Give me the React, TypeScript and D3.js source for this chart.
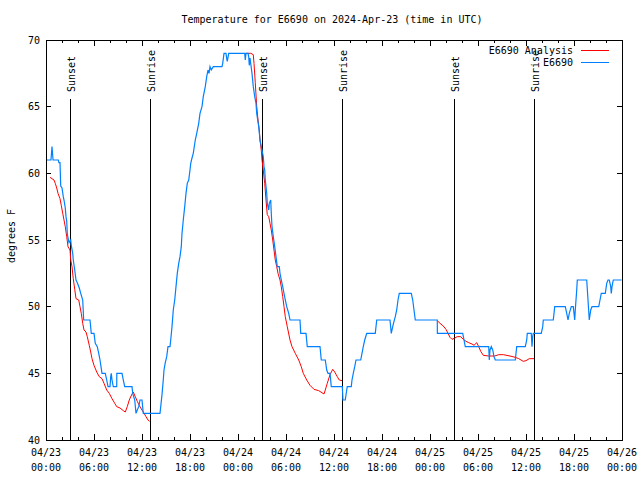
import React from "react";
import * as d3 from "d3";

const TITLE = "Temperature for E6690 on 2024-Apr-23 (time in UTC)";
const Y_LABEL = "degrees F";
const SERIES_NAMES = ["E6690 Analysis", "E6690"];
const SERIES_COLORS = ["#ff0000", "#0080ff"];

const yTicks = [40, 45, 50, 55, 60, 65, 70];
// hours since 04/23 00:00 UTC
const xMajorHours = [0, 6, 12, 18, 24, 30, 36, 42, 48, 54, 60, 66, 72];
const xTickDates = ["04/23", "04/23", "04/23", "04/23", "04/24", "04/24", "04/24", "04/24", "04/25", "04/25", "04/25", "04/25", "04/26"];
const xTickTimes = ["00:00", "06:00", "12:00", "18:00", "00:00", "06:00", "12:00", "18:00", "00:00", "06:00", "12:00", "18:00", "00:00"];
const xMinorHours = d3.range(0, 73, 2);

const sunLabels = ["Sunset", "Sunrise", "Sunset", "Sunrise", "Sunset", "Sunrise"];
const sunHours = [3.04, 13.1, 27.04, 37.04, 51.04, 61.04];

// Observed station temperature (hour, degF)
const observed: [number, number][] = [
  [0.12, 61.0], [0.62, 61.0], [0.75, 62.0], [0.88, 61.0], [1.54, 61.0], [1.62, 60.8], [1.75, 60.8],
  [1.84, 59.05], [2.0, 58.9], [2.16, 58.25], [2.25, 58.0], [2.41, 57.4], [2.5, 56.75], [2.59, 56.4],
  [2.66, 55.5], [2.75, 55.15], [2.88, 54.8], [3.09, 55.0], [3.16, 54.6], [3.34, 54.0], [3.41, 53.5],
  [3.59, 52.75], [3.75, 52.0], [3.91, 51.8], [4.16, 51.4], [4.34, 51.0], [4.59, 50.5], [4.71, 49.0],
  [5.5, 49.0], [5.66, 48.0], [6.0, 48.0], [6.16, 47.25], [6.41, 47.0], [6.59, 46.5], [6.75, 46.0],
  [7.0, 45.0], [7.41, 45.0], [7.59, 44.5], [7.75, 44.0], [8.0, 44.0], [8.09, 44.75], [8.16, 45.0],
  [8.25, 44.5], [8.41, 44.0], [8.84, 44.0], [8.85, 45.0], [9.5, 45.0], [9.66, 44.5], [9.84, 44.0],
  [10.75, 44.0], [10.84, 43.5], [11.09, 43.0], [11.25, 42.0], [11.41, 42.25], [11.59, 42.5],
  [11.75, 43.0], [12.0, 43.0], [12.16, 42.0], [14.25, 42.0], [14.5, 43.4], [14.66, 44.5], [14.75, 45.25],
  [14.91, 45.8], [15.09, 46.25], [15.25, 47.0], [15.5, 47.0], [15.59, 47.5], [15.75, 48.5], [15.91, 49.75],
  [16.09, 50.5], [16.25, 51.5], [16.41, 52.5], [16.59, 53.25], [16.75, 53.75], [16.91, 54.5], [17.0, 55.5],
  [17.16, 56.5], [17.34, 57.5], [17.5, 58.5], [17.66, 59.25], [17.84, 59.5], [18.0, 60.25], [18.09, 60.75],
  [18.25, 61.15], [18.41, 61.5], [18.66, 62.5], [18.84, 63.0], [19.09, 63.75], [19.25, 64.5], [19.5, 65.0],
  [19.66, 65.75], [19.91, 66.5], [20.09, 67.25], [20.25, 67.75], [20.38, 67.5], [20.5, 68.0], [20.66, 67.75],
  [20.91, 68.0], [22.0, 68.0], [22.09, 68.25], [22.25, 69.0], [22.5, 69.0], [22.59, 68.6], [22.66, 68.4],
  [22.75, 68.7], [22.84, 69.0], [24.84, 69.0], [24.91, 68.5], [25.0, 69.0], [25.25, 69.0], [25.34, 68.75],
  [25.41, 68.1], [25.5, 68.65], [25.75, 67.5], [25.91, 66.5], [26.09, 65.75], [26.25, 65.25], [26.34, 64.5],
  [26.59, 63.5], [26.75, 62.5], [27.0, 61.75], [27.16, 61.25], [27.25, 60.5], [27.34, 60.25], [27.41, 59.5],
  [27.59, 58.5], [27.66, 57.75], [27.84, 57.25], [27.91, 57.75], [28.09, 58.0], [28.16, 57.0], [28.25, 56.0],
  [28.41, 55.25], [28.59, 54.5], [28.75, 53.75], [28.91, 53.0], [29.16, 53.0], [29.25, 52.5], [29.41, 52.0],
  [29.59, 51.5], [29.75, 51.0], [29.91, 50.5], [30.09, 50.0], [30.34, 49.5], [30.5, 49.0], [31.75, 49.0],
  [31.84, 48.0], [32.5, 48.0], [32.66, 47.0], [34.25, 47.0], [34.41, 46.0], [34.91, 46.0], [35.09, 45.25],
  [35.25, 45.0], [35.5, 45.0], [35.66, 44.0], [37.04, 44.0], [37.12, 43.0], [37.41, 43.0], [37.59, 43.75],
  [37.66, 44.0], [38.16, 44.0], [38.25, 44.5], [38.41, 45.0], [38.59, 45.5], [38.75, 46.0], [39.34, 46.0],
  [39.5, 46.5], [39.66, 47.0], [39.84, 47.5], [40.09, 48.0], [41.16, 48.0], [41.34, 49.0], [43.0, 49.0],
  [43.16, 48.0], [43.34, 48.5], [43.5, 48.9], [43.66, 49.25], [43.84, 49.75], [44.0, 50.5], [44.16, 51.0],
  [45.66, 51.0], [45.84, 50.5], [46.0, 49.75], [46.16, 49.0], [48.91, 49.0], [48.92, 48.0], [52.09, 48.0],
  [52.25, 47.5], [52.41, 47.0], [55.34, 47.0], [55.41, 46.0], [55.5, 46.75], [55.66, 47.0], [55.84, 46.75],
  [56.0, 46.25], [56.16, 46.0], [58.66, 46.0], [58.84, 47.0], [59.91, 47.0], [60.09, 47.5], [60.16, 48.0],
  [60.66, 48.0], [60.75, 47.0], [60.84, 47.75], [60.91, 48.0], [61.91, 48.0], [62.09, 48.5], [62.16, 49.0],
  [63.41, 49.0], [63.59, 50.0], [64.91, 50.0], [65.09, 49.5], [65.25, 49.0], [65.41, 49.5], [65.66, 50.0],
  [65.91, 50.0], [66.09, 49.0], [66.16, 49.75], [66.34, 51.25], [66.41, 52.0], [67.59, 52.0], [67.75, 50.5],
  [67.91, 49.0], [68.09, 49.75], [68.25, 50.0], [69.09, 50.0], [69.25, 50.5], [69.41, 51.0], [69.91, 51.0],
  [70.09, 51.75], [70.25, 52.0], [70.41, 52.0], [70.59, 51.5], [70.66, 51.0], [70.75, 51.5], [70.91, 52.0],
  [71.95, 52.0],
];

// Analysis temperature (hour, degF), three separate pieces
const analysisNight1: [number, number][] = [
  [0.5, 59.7], [0.75, 59.6], [1.0, 59.5], [1.16, 59.25], [1.34, 58.9], [1.5, 58.5], [1.75, 58.1],
  [1.91, 57.6], [2.09, 57.0], [2.25, 56.5], [2.41, 56.0], [2.59, 55.25], [2.75, 54.5], [3.0, 54.25],
  [3.09, 53.5], [3.25, 53.0], [3.41, 52.1], [3.59, 51.3], [3.75, 50.6], [4.09, 50.5], [4.25, 50.0],
  [4.41, 49.5], [4.59, 48.75], [4.75, 48.25], [5.0, 48.1], [5.16, 47.75], [5.41, 47.1], [5.59, 46.6],
  [5.75, 46.1], [6.0, 45.6], [6.34, 45.1], [6.66, 44.75], [7.0, 44.6], [7.25, 44.25], [7.59, 43.75],
  [7.91, 43.5], [8.25, 43.1], [8.59, 42.75], [8.84, 42.5], [9.25, 42.4], [9.66, 42.2], [9.91, 42.1],
  [10.16, 42.5], [10.41, 43.0], [10.75, 43.45], [10.91, 43.6], [11.16, 43.25], [11.41, 42.9],
  [11.66, 42.6], [11.84, 42.4], [12.16, 42.1], [12.5, 41.75], [12.75, 41.5], [12.94, 41.4],
];
const analysisNight2: [number, number][] = [
  [25.0, 69.0], [25.6, 69.0], [25.91, 68.9], [26.0, 68.25], [26.16, 66.8], [26.34, 65.0], [26.5, 64.0],
  [26.66, 63.25], [26.75, 62.5], [26.91, 61.75], [27.0, 61.0], [27.16, 60.25], [27.34, 59.25], [27.5, 58.0],
  [27.66, 56.9], [27.84, 56.75], [28.0, 56.25], [28.16, 55.75], [28.34, 55.0], [28.5, 54.25], [28.66, 53.5],
  [28.84, 53.0], [29.0, 52.5], [29.25, 52.0], [29.41, 51.5], [29.59, 50.75], [29.75, 50.0], [29.91, 49.25],
  [30.16, 48.5], [30.5, 47.5], [30.75, 47.0], [31.16, 46.5], [31.59, 46.0], [31.91, 45.5], [32.16, 45.0],
  [32.59, 44.5], [33.0, 44.1], [33.5, 43.8], [34.09, 43.7], [34.75, 43.45], [34.91, 43.75], [35.16, 44.25],
  [35.5, 44.9], [35.84, 45.3], [36.09, 45.1], [36.41, 44.75], [36.66, 44.5], [37.0, 44.45],
];
const analysisNight3: [number, number][] = [
  [48.91, 48.95], [49.25, 48.75], [49.66, 48.55], [50.0, 48.3], [50.25, 48.0], [50.5, 47.7], [50.75, 47.55],
  [51.09, 47.65], [51.41, 47.75], [51.84, 47.75], [52.16, 47.55], [52.5, 47.4], [52.84, 47.3], [53.25, 47.2],
  [53.5, 47.1], [53.84, 47.3], [54.09, 47.0], [54.34, 46.65], [54.66, 46.35], [55.34, 46.3], [56.09, 46.3],
  [56.59, 46.4], [57.16, 46.4], [58.0, 46.3], [58.66, 46.2], [59.09, 46.1], [59.66, 45.9], [60.0, 45.95],
  [60.41, 46.1], [61.0, 46.1],
];

const W = 640;
const H = 480;
const M = { left: 46, right: 622, top: 40, bottom: 440 };
const FONT = "'DejaVu Sans Mono', monospace";

export default function App() {
  const x = d3.scaleLinear().domain([0, 72]).range([M.left, M.right]);
  const y = d3.scaleLinear().domain([40, 70]).range([M.bottom, M.top]);
  const line = d3
    .line<[number, number]>()
    .x((d) => x(d[0]))
    .y((d) => y(d[1]));

  const majorSet = new Set(xMajorHours);

  return (
    <svg
      width={W}
      height={H}
      viewBox={`0 0 ${W} ${H}`}
      style={{ position: "absolute", left: 0, top: 0, background: "#fff" }}
      fontFamily={FONT}
      fontSize={10}
    >
      <rect x={0} y={0} width={W} height={H} fill="#fff" />
      <text x={332} y={23} textAnchor="middle" fill="#000">
        {TITLE}
      </text>

      {/* y ticks */}
      {yTicks.map((t) => (
        <g key={"y" + t} shapeRendering="crispEdges">
          <line x1={M.left} x2={M.left + 5} y1={y(t)} y2={y(t)} stroke="#000" />
          <line x1={M.right - 5} x2={M.right} y1={y(t)} y2={y(t)} stroke="#000" />
          <text x={40} y={y(t)} dy="0.35em" textAnchor="end" fill="#000">
            {t}
          </text>
        </g>
      ))}

      {/* x minor ticks */}
      {xMinorHours
        .filter((h) => !majorSet.has(h))
        .map((h) => (
          <g key={"xm" + h} shapeRendering="crispEdges">
            <line x1={x(h)} x2={x(h)} y1={M.bottom} y2={M.bottom - 3} stroke="#000" />
            <line x1={x(h)} x2={x(h)} y1={M.top} y2={M.top + 3} stroke="#000" />
          </g>
        ))}
      {/* x major ticks */}
      {xMajorHours.map((h, i) => (
        <g key={"x" + h}>
          <line x1={x(h)} x2={x(h)} y1={M.bottom} y2={M.bottom - 6} stroke="#000" shapeRendering="crispEdges" />
          <line x1={x(h)} x2={x(h)} y1={M.top} y2={M.top + 6} stroke="#000" shapeRendering="crispEdges" />
          <text x={x(h)} y={456} textAnchor="middle" fill="#000">
            {xTickDates[i]}
          </text>
          <text x={x(h)} y={471} textAnchor="middle" fill="#000">
            {xTickTimes[i]}
          </text>
        </g>
      ))}

      <text
        transform={`translate(15,${(M.top + M.bottom) / 2 - 4}) rotate(-90)`}
        textAnchor="middle"
        fill="#000"
      >
        {Y_LABEL}
      </text>

      {/* sunrise / sunset markers */}
      {sunHours.map((h, i) => (
        <g key={"s" + i}>
          <line x1={x(h)} x2={x(h)} y1={99} y2={M.bottom} stroke="#000" shapeRendering="crispEdges" />
          <text transform={`translate(${x(h) + 4.5},92) rotate(-90)`} textAnchor="start" fill="#000">
            {sunLabels[i]}
          </text>
        </g>
      ))}

      {/* data */}
      {[analysisNight1, analysisNight2, analysisNight3].map((seg, i) => (
        <path key={"a" + i} d={line(seg) || ""} fill="none" stroke={SERIES_COLORS[0]} strokeWidth={1} />
      ))}
      <path d={line(observed) || ""} fill="none" stroke={SERIES_COLORS[1]} strokeWidth={1.2} />

      {/* legend */}
      {SERIES_NAMES.map((name, i) => (
        <g key={"l" + i}>
          <text x={573} y={50 + i * 12} dy="0.35em" textAnchor="end" fill="#000">
            {name}
          </text>
          <line
            x1={581}
            x2={609}
            y1={50 + i * 12}
            y2={50 + i * 12}
            stroke={SERIES_COLORS[i]}
            shapeRendering="crispEdges"
          />
        </g>
      ))}

      {/* frame */}
      <rect
        x={M.left}
        y={M.top}
        width={M.right - M.left}
        height={M.bottom - M.top}
        fill="none"
        stroke="#000"
        shapeRendering="crispEdges"
      />
    </svg>
  );
}
